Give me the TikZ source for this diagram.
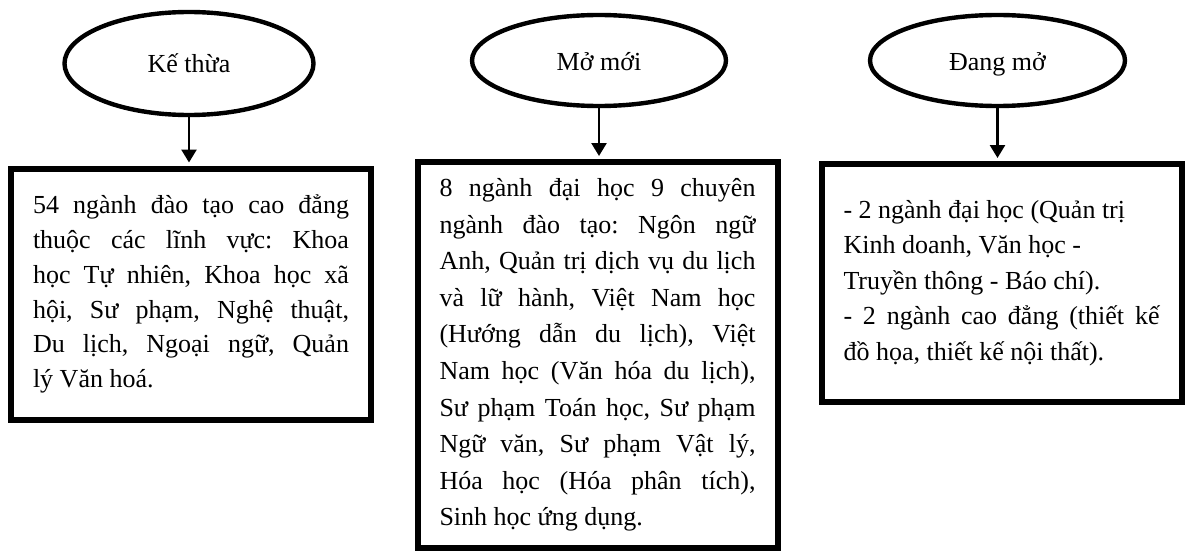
\documentclass[tikz,border=0pt]{standalone}
\usepackage{fontspec}
\setmainfont{Liberation Serif}
\usetikzlibrary{shapes.geometric,arrows.meta}
\setlength{\parindent}{0pt}
\frenchspacing

\begin{document}
\begin{tikzpicture}[x=0.5pt,y=-0.5pt,
    oval/.style={ellipse,draw,line width=2.2pt,inner sep=0pt,text depth=2pt,font=\fontsize{13}{16}\selectfont},
    panel/.style={rectangle,draw,line width=3pt,text width=158pt,inner xsep=11pt,inner ysep=0pt,
      minimum width=180pt,align=justify,font=\fontsize{13}{18.3}\selectfont},
    link/.style={-{Triangle[width=7.5pt,length=6.5pt]},line width=1.3pt,shorten >=1.5pt}]
      \useasboundingbox (0,0) rectangle (1187,551);
      % the three groups
      \node[oval,minimum width=124.5pt,minimum height=51.5pt,text height=11pt] (inherit) at (189,63.5) {Kế thừa};
      \node[oval,minimum width=127pt,minimum height=45.5pt,text height=12pt] (newly) at (599,60.5) {Mở mới};
      \node[oval,minimum width=127.5pt,minimum height=45.5pt,text height=12pt] (opening) at (997.5,60.5) {Đang mở};
      % what each group holds
      \node[panel,minimum height=125.5pt,font=\fontsize{13}{17.4}\selectfont] (inheritbox) at (191,294)
        {54 ngành đào tạo cao đẳng\linebreak
         thuộc các lĩnh vực: Khoa\linebreak
         học Tự nhiên, Khoa học xã\linebreak
         hội, Sư phạm, Nghệ thuật,\linebreak
         Du lịch, Ngoại ngữ, Quản\linebreak
         lý Văn hoá.};
      \node[panel,minimum height=193pt] (newlybox) at (597.5,355)
        {8 ngành đại học 9 chuyên\linebreak
         ngành đào tạo: Ngôn ngữ\linebreak
         Anh, Quản trị dịch vụ du lịch\linebreak
         và lữ hành, Việt Nam học\linebreak
         (Hướng dẫn du lịch), Việt\linebreak
         Nam học (Văn hóa du lịch),\linebreak
         Sư phạm Toán học, Sư phạm\linebreak
         Ngữ văn, Sư phạm Vật lý,\linebreak
         Hóa học (Hóa phân tích),\linebreak
         Sinh học ứng dụng.};
      \node[panel,minimum height=119pt,font=\fontsize{13}{17.8}\selectfont] (openingbox) at (1001.5,283)
        {- 2 ngành đại học (Quản trị\\
         Kinh doanh, Văn học -\\
         Truyền thông - Báo chí).\\
         - 2 ngành cao đẳng (thiết kế\linebreak
         đồ họa, thiết kế nội thất).};
      % arrows down
      \draw[link] (inherit.south) -- (inherit.south |- inheritbox.north);
      \draw[link] (newly.south) -- (newly.south |- newlybox.north);
      \draw[link] (opening.south) -- (opening.south |- openingbox.north);
\end{tikzpicture}
\end{document}
